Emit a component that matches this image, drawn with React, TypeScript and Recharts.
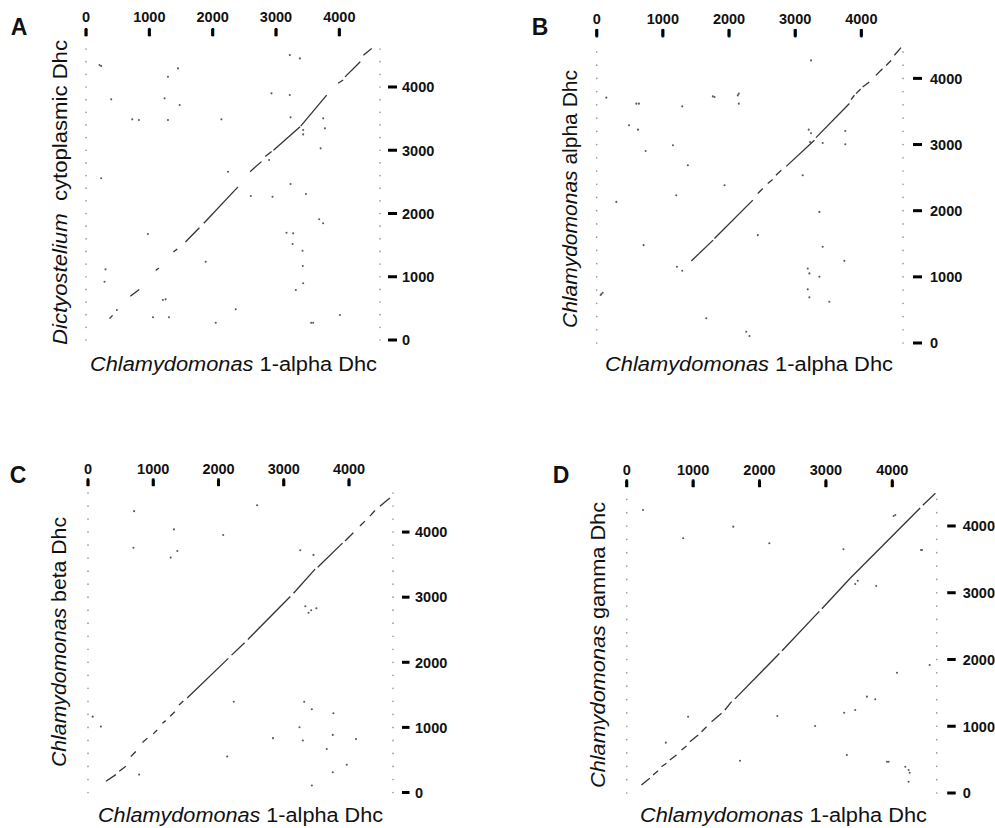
import React from 'react';
import { ScatterChart, Scatter, XAxis, YAxis } from 'recharts';

const FONT = "'Liberation Sans', Arial, Helvetica, sans-serif";

const MAJOR_TICKS = [0, 1000, 2000, 3000, 4000];
const MINOR_TICKS = [0, 200, 400, 600, 800, 1000, 1200, 1400, 1600, 1800, 2000, 2200, 2400, 2600, 2800, 3000, 3200, 3400, 3600, 3800, 4000, 4200, 4400, 4600];

const X_TITLE_ITALIC = 'Chlamydomonas';
const X_TITLE_REST = ' 1-alpha Dhc';

// ---------- Panel A ----------
const A_LETTER = 'A';
const A_X_MAX = 4642;
const A_Y_MAX = 4711;
const A_Y_TITLE = ['Dictyostelium', '  cytoplasmic Dhc'];
const A_SEGMENTS = [
  [372, 340, 420, 390], [700, 690, 840, 800], [1100, 1100, 1150, 1140], [1380, 1390, 1440, 1440],
  [1570, 1550, 1790, 1775], [1860, 1845, 2400, 2420], [2590, 2660, 2770, 2820], [2830, 2900, 2930, 2980],
  [2960, 3000, 3380, 3370], [3390, 3380, 3800, 3870], [3980, 4060, 4060, 4110], [4090, 4160, 4330, 4400],
  [4380, 4500, 4510, 4610],
];
const A_DOTS = [
  [1294, 4162], [1452, 4294], [240, 4330], [1241, 3820], [1479, 3714], [730, 3488], [835, 3477], [1294, 3477],
  [2138, 3488], [2929, 3899], [3218, 3872], [3230, 3520], [3429, 3319], [3429, 3250], [3745, 3504], [3772, 3346],
  [3704, 3030], [2891, 2845], [240, 2556], [2243, 2660], [2602, 2276], [2945, 2265], [3230, 2466], [3472, 2308],
  [3682, 1908], [3745, 1845], [977, 1675], [3166, 1696], [3271, 1686], [3261, 1517], [3419, 1411], [1890, 1237],
  [308, 1117], [293, 921], [3429, 896], [3313, 790], [487, 474], [1057, 359], [1310, 359], [2364, 485],
  [4009, 395], [2048, 273], [3587, 273], [1257, 643], [398, 3804], [214, 4346], [3376, 4452], [3218, 4504],
  [3423, 1170], [3555, 273], [1213, 632],
];

// ---------- Panel B ----------
const B_LETTER = 'B';
const B_X_MAX = 4630;
const B_Y_MAX = 4550;
const B_Y_TITLE = ['Chlamydomonas', ' alpha Dhc'];
const B_SEGMENTS = [
  [1430, 1240, 1760, 1555], [1780, 1580, 2360, 2160], [2435, 2260, 2510, 2335], [2585, 2410, 2660, 2470],
  [2710, 2535, 2790, 2610], [2865, 2670, 3290, 3065], [3315, 3105, 3820, 3620], [3845, 3680, 3895, 3745],
  [3920, 3770, 3990, 3840], [4020, 3870, 4120, 3945], [4220, 4045, 4320, 4145], [4375, 4195, 4450, 4270],
  [4500, 4350, 4600, 4465],
];
const B_DOTS = [
  [146, 3709], [638, 3618], [1756, 3728], [2148, 3769], [2148, 3618], [1293, 3577], [488, 3291], [624, 3225],
  [740, 2903], [1152, 2989], [1378, 2687], [3205, 3225], [3226, 3039], [3416, 3023], [3758, 3205], [3758, 3004],
  [3114, 2536], [1932, 2385], [2435, 1630], [3366, 1982], [1212, 1152], [1293, 1092], [3190, 1127], [3215, 1052],
  [3366, 1001], [3190, 811], [3215, 690], [71, 740], [90, 760], [60, 725], [3743, 1242], [709, 1479],
  [1656, 373], [2309, 106], [297, 2133], [1203, 2234], [3416, 1454], [3517, 623], [599, 3618], [1781, 3718],
  [2133, 3743], [3240, 4272], [2260, 170], [3240, 3170],
];

// ---------- Panel C ----------
const C_LETTER = 'C';
const C_X_MAX = 4674;
const C_Y_MAX = 4600;
const C_Y_TITLE = ['Chlamydomonas', ' beta Dhc'];
const C_SEGMENTS = [
  [275, 173, 427, 275], [478, 325, 580, 402], [656, 554, 733, 631], [835, 768, 911, 835],
  [1000, 900, 1060, 960], [1140, 1064, 1191, 1104], [1260, 1170, 1330, 1240], [1394, 1344, 1461, 1405],
  [1520, 1450, 2150, 2060], [2200, 2110, 2400, 2300], [2450, 2350, 3100, 3010], [3150, 3060, 3480, 3430],
  [3520, 3460, 3900, 3830], [3939, 3863, 4066, 3989], [4168, 4092, 4244, 4168], [4321, 4244, 4397, 4331],
  [4473, 4397, 4626, 4524],
];
const C_DOTS = [
  [707, 4321], [1318, 4041], [2591, 4412], [3252, 3721], [3455, 3649], [1267, 3608], [1369, 3710], [2072, 3954],
  [697, 3760], [72, 1165], [198, 1012], [2835, 835], [3241, 1003], [3293, 798], [3751, 885], [3659, 667],
  [3751, 310], [3430, 107], [2133, 554], [783, 275], [3430, 1278], [3761, 1217], [4107, 820], [3965, 427],
  [2234, 1394], [3313, 1394], [3330, 2860], [3420, 2800], [3500, 2830], [3380, 2760],
];

// ---------- Panel D ----------
const D_LETTER = 'D';
const D_X_MAX = 4669;
const D_Y_MAX = 4494;
const D_Y_TITLE = ['Chlamydomonas', ' gamma Dhc'];
const D_SEGMENTS = [
  [222, 120, 347, 220], [397, 270, 472, 334], [524, 394, 599, 445], [649, 494, 750, 569],
  [826, 644, 901, 704], [951, 769, 1077, 869], [1127, 918, 1203, 993], [1278, 1068, 1429, 1194],
  [1479, 1243, 1580, 1368], [1630, 1410, 2300, 2090], [2340, 2130, 2900, 2720], [2940, 2760, 3366, 3216],
  [3366, 3216, 4420, 4270], [4460, 4310, 4649, 4490],
];
const D_DOTS = [
  [4045, 4165], [4433, 3640], [3758, 3101], [3442, 3131], [4563, 1918], [4071, 1802], [3743, 1404], [3618, 1443],
  [4262, 304], [4246, 169], [4196, 394], [3920, 469], [589, 754], [1706, 484], [2269, 1154], [2838, 1004],
  [3275, 1203], [3316, 569], [3944, 469], [4246, 345], [3442, 1243], [925, 1143], [2148, 3741], [4020, 4150],
  [4448, 3640], [1605, 3990], [850, 3816], [3265, 3651], [246, 4240], [3480, 3180],
];

// ---------- Layout (pixels) ----------
const LAYOUTS = {
  A: { box: { left: 0, top: 0, width: 497, height: 420 }, plot: { l: 86, t: 42, r: 380, b: 340 },
    topBase: -20.5, bar: [-13, -6], dash: [8, 17], rightLabel: 22,
    letter: { x: 19, y: 35 }, xTitle: { cx: 233.5, base: 371, len: 287 }, yTitle: { cy: 192.5, base: 67, len: 305 } },
  B: { box: { left: 497, top: 0, width: 498, height: 420 }, plot: { l: 596.7, t: 42, r: 903, b: 343 },
    topBase: -18, bar: [-12.5, -5.5], dash: [10, 19], rightLabel: 27,
    letter: { x: 540, y: 35 }, xTitle: { cx: 749, base: 371, len: 288 }, yTitle: { cy: 199, base: 577, len: 258 } },
  C: { box: { left: 0, top: 420, width: 497, height: 408 }, plot: { l: 88, t: 493, r: 393, b: 792.5 },
    topBase: -19.5, bar: [-13.5, -7], dash: [9, 16.5], rightLabel: 22,
    letter: { x: 18, y: 483 }, xTitle: { cx: 240.5, base: 821.5, len: 285 }, yTitle: { cy: 642, base: 66, len: 250 } },
  D: { box: { left: 497, top: 420, width: 498, height: 408 }, plot: { l: 626.7, t: 493, r: 936.7, b: 793 },
    topBase: -18, bar: [-12.5, -6], dash: [10.5, 19], rightLabel: 26,
    letter: { x: 561, y: 483 }, xTitle: { cx: 783.5, base: 821.5, len: 287 }, yTitle: { cy: 645, base: 605, len: 286 } },
};

const PANELS = [
  { key: 'A', letter: A_LETTER, xMax: A_X_MAX, yMax: A_Y_MAX, yTitle: A_Y_TITLE, segments: A_SEGMENTS, dots: A_DOTS },
  { key: 'B', letter: B_LETTER, xMax: B_X_MAX, yMax: B_Y_MAX, yTitle: B_Y_TITLE, segments: B_SEGMENTS, dots: B_DOTS },
  { key: 'C', letter: C_LETTER, xMax: C_X_MAX, yMax: C_Y_MAX, yTitle: C_Y_TITLE, segments: C_SEGMENTS, dots: C_DOTS },
  { key: 'D', letter: D_LETTER, xMax: D_X_MAX, yMax: D_Y_MAX, yTitle: D_Y_TITLE, segments: D_SEGMENTS, dots: D_DOTS },
];

const AX = 0.01; // axis thickness (must be > 0 for Recharts to draw the ticks)

const BorderDot = (props: any) => {
  const { x, y } = props;
  if (x == null || y == null) return null;
  return <circle cx={x} cy={y} r={0.85} fill="#9a9a9a" />;
};

// Major top tick: label plus a short bold bar mark above the dotted border
const TopLabel = (props: any) => {
  const { lay, payload } = props;
  const x = Number(props.x);
  const y = Number(props.y);
  if (!isFinite(x) || !isFinite(y) || !lay) return null;
  const barH = lay.bar[1] - lay.bar[0];
  return (
    <g>
      <rect x={x - 1.5} y={y + lay.bar[0]} width={3} height={barH} fill="#000" />
      <text x={x} y={y + lay.bar[1] - 1.6} textAnchor="middle" fontFamily="'DejaVu Sans', sans-serif" fontWeight="bold"
        fontSize={barH} fill="#000" stroke="#000" strokeWidth={1.5}>|</text>
      <text x={x} y={y + lay.topBase} textAnchor="middle" fontFamily={FONT} fontWeight="bold" fontSize={14.5} fill="#111">
        {payload.value}
      </text>
    </g>
  );
};
const RightDash = (props: any) => {
  const { x, y, lay } = props;
  if (x == null || y == null || !lay) return null;
  return <rect x={x + lay.dash[0]} y={y - 1.5} width={lay.dash[1] - lay.dash[0]} height={3} fill="#000" />;
};
const RightLabel = (props: any) => {
  const { x, y, lay, payload } = props;
  if (x == null || y == null || !lay) return null;
  return (
    <text x={x + lay.rightLabel} y={y + 5.3} textAnchor="start" fontFamily={FONT} fontWeight="bold" fontSize={14.5} fill="#111">
      {payload.value}
    </text>
  );
};

const NoiseDot = (props: any) => {
  const { cx, cy } = props;
  if (cx == null || cy == null) return null;
  return <circle cx={cx} cy={cy} r={1.05} fill="#5a5a5a" />;
};

const NoShape = () => null;

function DotPlot({ panel }: any) {
  const lay = (LAYOUTS as any)[panel.key];
  const { box, plot } = lay;
  const margin = {
    left: plot.l - box.left - AX,
    top: plot.t - box.top - 2 * AX,
    right: box.left + box.width - plot.r - 3 * AX,
    bottom: box.top + box.height - plot.b - AX,
  };
  const xMinor = MINOR_TICKS.filter((t) => t <= panel.xMax);
  const yMinor = MINOR_TICKS.filter((t) => t <= panel.yMax);
  const dotData = panel.dots.map((d: number[]) => ({ x: d[0], y: d[1] }));
  const common = { type: 'number' as const, axisLine: false, tickLine: false, tickSize: 0, tickMargin: 0, allowDataOverflow: true, interval: 0 as const };
  return (
    <div style={{ position: 'absolute', left: box.left, top: box.top, width: box.width, height: box.height }}>
      <ScatterChart width={box.width} height={box.height} margin={margin}>
        <XAxis xAxisId="main" dataKey="x" orientation="top" height={AX} domain={[0, panel.xMax]} ticks={MAJOR_TICKS} tick={<TopLabel lay={lay} />} {...common} />
        <XAxis xAxisId="topMinor" orientation="top" height={AX} domain={[0, panel.xMax]} ticks={xMinor} tick={<BorderDot />} {...common} />
        <XAxis xAxisId="bottomMinor" orientation="bottom" height={AX} domain={[0, panel.xMax]} ticks={xMinor} tick={<BorderDot />} {...common} />
        <YAxis yAxisId="main" dataKey="y" orientation="right" width={AX} domain={[0, panel.yMax]} ticks={MAJOR_TICKS} tick={<RightLabel lay={lay} />} {...common} />
        <YAxis yAxisId="rightDash" orientation="right" width={AX} domain={[0, panel.yMax]} ticks={MAJOR_TICKS} tick={<RightDash lay={lay} />} {...common} />
        <YAxis yAxisId="rightMinor" orientation="right" width={AX} domain={[0, panel.yMax]} ticks={yMinor} tick={<BorderDot />} {...common} />
        <YAxis yAxisId="leftMinor" orientation="left" width={AX} domain={[0, panel.yMax]} ticks={yMinor} tick={<BorderDot />} {...common} />
        <Scatter xAxisId="main" yAxisId="main" data={dotData} shape={<NoiseDot />} isAnimationActive={false} />
        {panel.segments.map((s: number[], i: number) => (
          <Scatter
            key={i}
            xAxisId="main"
            yAxisId="main"
            data={[{ x: s[0], y: s[1] }, { x: s[2], y: s[3] }]}
            line={{ stroke: '#333', strokeWidth: 1.3 }}
            lineType="joint"
            shape={NoShape as any}
            isAnimationActive={false}
          />
        ))}
      </ScatterChart>
    </div>
  );
}

function Titles() {
  return (
    <svg width={995} height={828} style={{ position: 'absolute', left: 0, top: 0, pointerEvents: 'none' }}>
      {PANELS.map((p) => {
        const lay = (LAYOUTS as any)[p.key];
        return (
          <g key={p.key} fontFamily={FONT} fill="#111">
            <text x={lay.letter.x} y={lay.letter.y} textAnchor="middle" fontWeight="bold" fontSize={23}>{p.letter}</text>
            <text x={lay.xTitle.cx} y={lay.xTitle.base} textAnchor="middle" fontSize={20} textLength={lay.xTitle.len} lengthAdjust="spacingAndGlyphs" style={{ whiteSpace: 'pre' }}>
              <tspan fontStyle="italic">{X_TITLE_ITALIC}</tspan>
              <tspan>{X_TITLE_REST}</tspan>
            </text>
            <text transform={`translate(${lay.yTitle.base},${lay.yTitle.cy}) rotate(-90)`} x={0} y={0} textAnchor="middle" fontSize={20} textLength={lay.yTitle.len} lengthAdjust="spacingAndGlyphs" style={{ whiteSpace: 'pre' }}>
              <tspan fontStyle="italic">{p.yTitle[0]}</tspan>
              <tspan>{p.yTitle[1]}</tspan>
            </text>
          </g>
        );
      })}
    </svg>
  );
}

export default function App() {
  return (
    <div style={{ position: 'absolute', left: 0, top: 0, width: 995, height: 828, background: '#fff', overflow: 'hidden' }}>
      {PANELS.map((p) => (
        <DotPlot key={p.key} panel={p} />
      ))}
      <Titles />
    </div>
  );
}
